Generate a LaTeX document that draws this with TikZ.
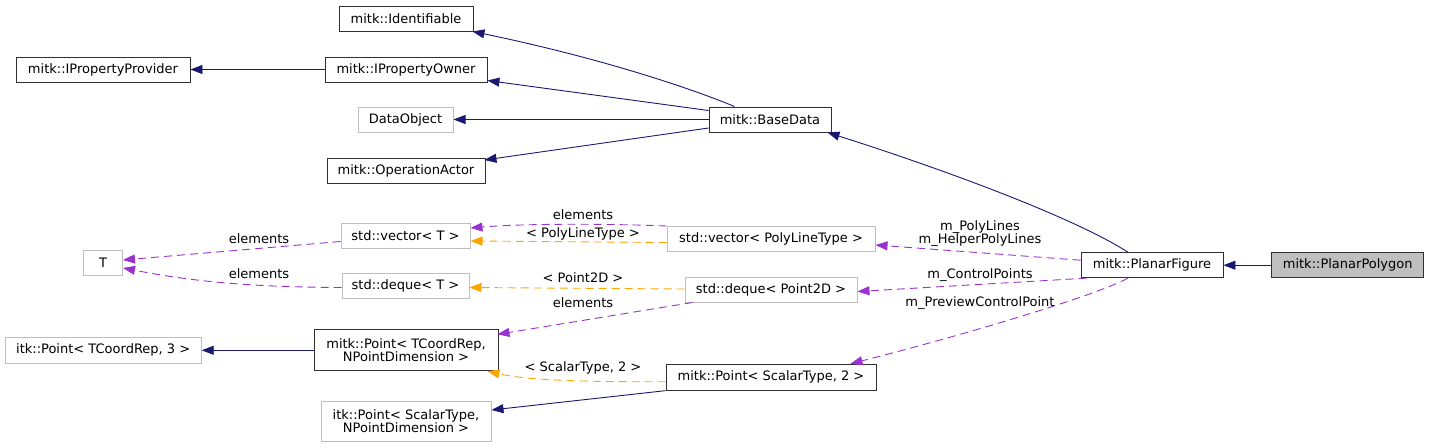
\documentclass[tikz,border=0pt]{standalone}
\usepackage{fontspec}
\setmainfont{DejaVu Sans}
\usetikzlibrary{arrows.meta,calc}
\definecolor{navy}{HTML}{191970}
\definecolor{orchid}{HTML}{9A32CD}
\definecolor{orng}{HTML}{FFA500}
\definecolor{lgray}{HTML}{BFBFBF}
\definecolor{dborder}{HTML}{303030}
\begin{document}
\begin{tikzpicture}[x=1pt,y=-1pt,
  every node/.style={font=\fontsize{13}{13.5}\selectfont},
  docbox/.style={draw=dborder,line width=0.9pt,fill=white,minimum height=25pt,inner sep=0pt,align=center},
  undocbox/.style={draw=lgray,line width=1pt,fill=white,minimum height=25pt,inner sep=0pt,align=center},
  inh/.style={draw=navy,line width=0.9pt,-{Triangle[length=12pt,width=9pt]}},
  usage/.style={draw=orchid,line width=0.9pt,dash pattern=on 8pt off 5pt,-{Triangle[length=12pt,width=9pt]}},
  tmpl/.style={draw=orng,line width=0.9pt,dash pattern=on 8pt off 5pt,-{Triangle[length=12pt,width=9pt]}},
  lbl/.style={inner sep=0pt}
]
\useasboundingbox (0,0) rectangle (1431,447);

% nodes
\node[docbox,minimum width=134pt] (ident) at (406,18.5) {mitk::Identifiable};
\node[docbox,minimum width=174pt] (ipp) at (103,69.5) {mitk::IPropertyProvider};
\node[docbox,minimum width=162pt] (ipo) at (406,69.5) {mitk::IPropertyOwner};
\node[undocbox,minimum width=95pt] (dobj) at (405.5,119.5) {DataObject};
\node[docbox,minimum width=158pt] (opa) at (406,170.5) {mitk::OperationActor};
\node[docbox,minimum width=122pt] (bd) at (770,119.5) {mitk::BaseData};
\node[undocbox,minimum width=39pt] (T) at (103,262.5) {T};
\node[undocbox,minimum width=129pt] (vecT) at (405.5,235.5) {std::vector< T >};
\node[undocbox,minimum width=127pt] (deqT) at (405.5,285.5) {std::deque< T >};
\node[undocbox,minimum width=208pt] (vecP) at (771,238.5) {std::vector< PolyLineType >};
\node[undocbox,minimum width=172pt] (deqP) at (771,289.5) {std::deque< Point2D >};
\node[docbox,minimum width=184pt,minimum height=41pt] (mpT) at (406,350.3) {mitk::Point< TCoordRep,\\NPointDimension >};
\node[undocbox,minimum width=196pt,minimum height=26pt] (itkT) at (103.2,350.3) {itk::Point< TCoordRep, 3 >};
\node[undocbox,minimum width=170pt,minimum height=40pt] (itkS) at (406,421) {itk::Point< ScalarType,\\NPointDimension >};
\node[docbox,minimum width=210pt,minimum height=26pt] (mpS) at (771,377.2) {mitk::Point< ScalarType, 2 >};
\node[docbox,minimum width=142pt] (pf) at (1152,265.2) {mitk::PlanarFigure};
\node[docbox,minimum width=152pt,fill=lgray] (pp) at (1347.7,265.2) {mitk::PlanarPolygon};

% inheritance edges
\draw[inh] ($(bd.north west)+(26,0)$) .. controls (700,92) and (610,60) .. ($(ident.south east)+(-1,0)$);
\draw[inh] ($(bd.west)+(0,-9)$) -- ($(ipo.east)+(0,11)$);
\draw[inh] (bd.west) -- (dobj.east);
\draw[inh] ($(bd.west)+(0,8.5)$) -- ($(opa.east)+(-1,-10.5)$);
\draw[inh] (ipo.west) -- (ipp.east);
\draw[inh] ($(pf.north)+(-24,0)$) .. controls (1070,215) and (930,165) .. ($(bd.south east)+(-4,0)$);
\draw[inh] (pp.west) -- (pf.east);
\draw[inh] (mpT.west) -- (itkT.east);
\draw[inh] (mpS.south west) -- ($(itkS.east)+(0,-11)$);

% usage edges
\draw[usage] ($(vecT.west)+(0,6)$) -- ($(T.east)+(0,-2.5)$);
\node[lbl] (l1) at (259,238.3) {elements};
\draw[usage] ($(deqT.west)+(0,2)$) .. controls (260,287) and (200,283) .. ($(T.east)+(0,5.5)$);
\node[lbl] (l2) at (259,274) {elements};
\draw[usage] ($(vecP.north west)+(0,0.5)$) .. controls (620,224) and (530,223) .. ($(vecT.east)+(0,-7.5)$);
\node[lbl] (l3) at (583,215) {elements};
\draw[tmpl] ($(vecP.west)+(0,4)$) -- ($(vecT.east)+(0,5.5)$);
\node[lbl] (l4) at (583,234) {< PolyLineType >};
\draw[usage] ($(pf.west)+(0,-5)$) -- ($(vecP.east)+(0,6.5)$);
\node[lbl,align=center] (l5) at (980,233.7) {m\_PolyLines\\m\_HelperPolyLines};
\draw[usage] ($(pf.south west)+(6,0)$) -- ($(deqP.east)+(0,2)$);
\node[lbl] (l6) at (980,275) {m\_ControlPoints};
\draw[usage] ($(deqP.south west)+(8,0)$) -- ($(mpT.north east)+(-1,5)$);
\node[lbl] (l7) at (583,303) {elements};
\draw[usage] ($(pf.south)+(-24,0)$) .. controls (1095,296) and (960,336) .. ($(mpS.north east)+(-26,0)$);
\node[lbl] (l8) at (980,303) {m\_PreviewControlPoint};

% template edges
\draw[tmpl] ($(deqP.west)+(0,-0.5)$) -- ($(deqT.east)+(0,2)$);
\node[lbl] (l9) at (583,278) {< Point2D >};
\draw[tmpl] ($(mpS.west)+(0,4.5)$) .. controls (600,382) and (530,381) .. ($(mpT.south east)+(-11,0)$);
\node[lbl] (l10) at (583,368) {< ScalarType, 2 >};
\end{tikzpicture}
\end{document}
